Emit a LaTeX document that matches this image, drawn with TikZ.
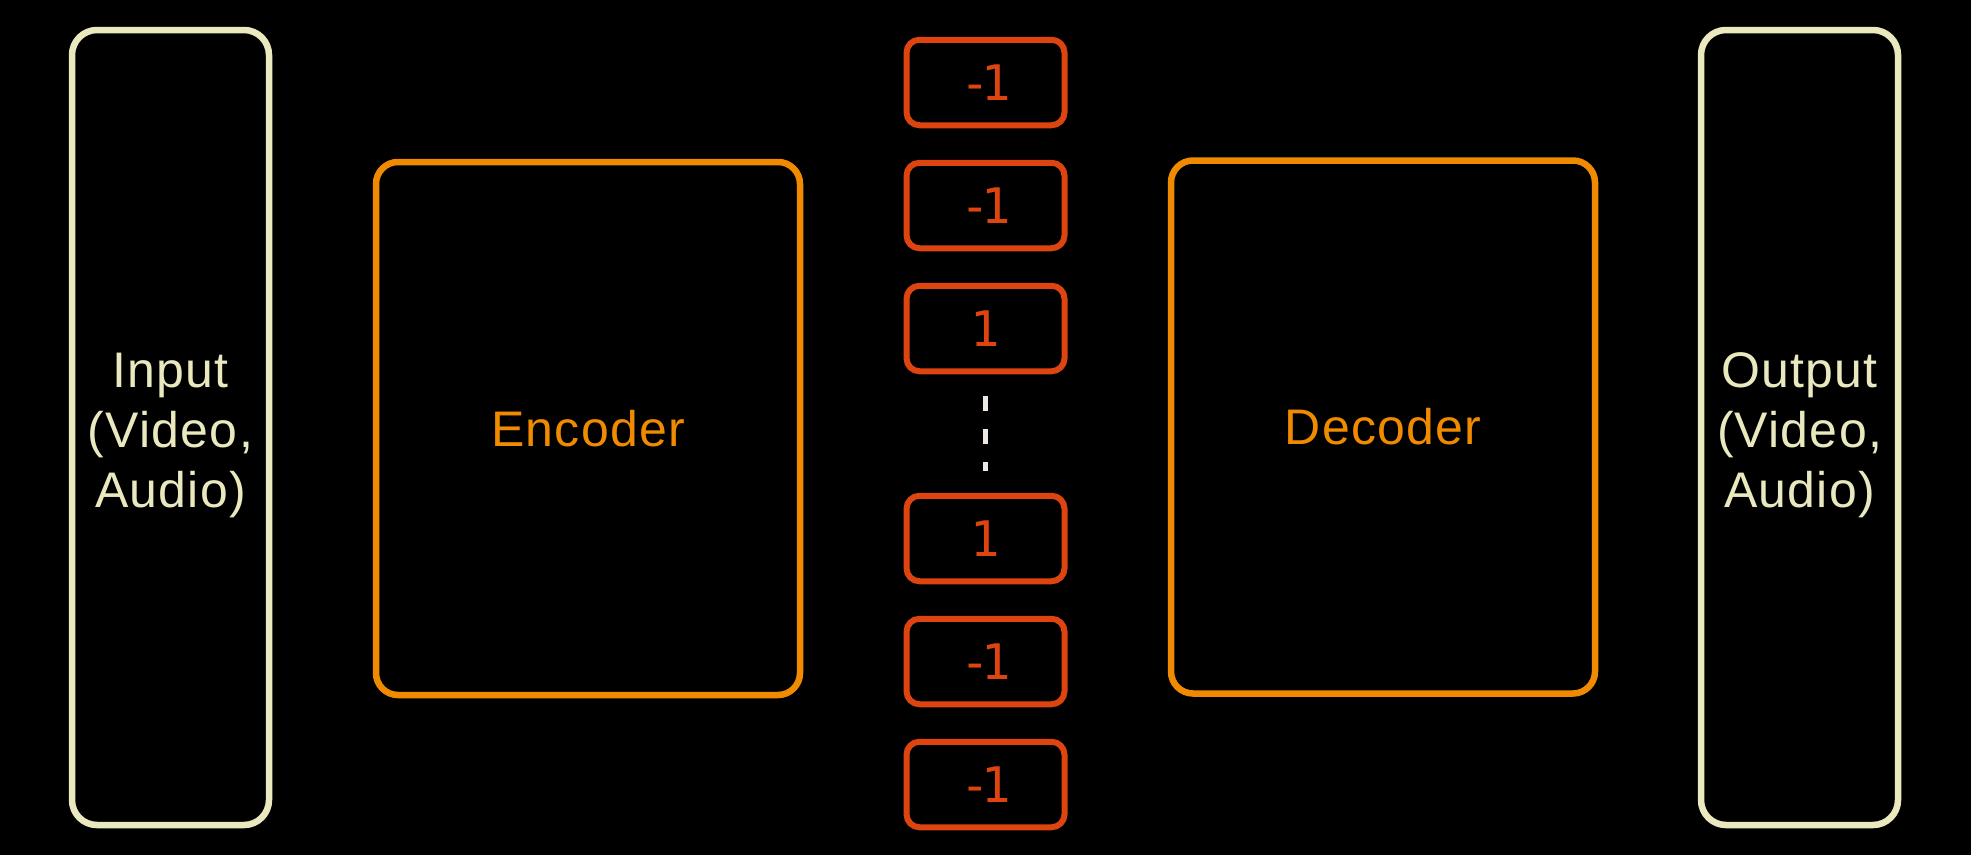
\documentclass[tikz,border=0pt]{standalone}
\usepackage{fontspec}
\setmainfont{Liberation Sans}[LetterSpace=2.5]
\newfontfamily\monof{DejaVu Sans Mono}
\definecolor{cream}{HTML}{EAE8BE}
\definecolor{orng}{HTML}{F08A00}
\definecolor{redo}{HTML}{DD4410}
\definecolor{dashc}{HTML}{EEE8E2}
\newcommand{\mneg}{-\kern-9pt 1}
\begin{document}
\begin{tikzpicture}[x=1pt,y=-1pt,
  iobox/.style={draw=cream, line width=6.5pt, rounded corners=25pt, minimum width=197pt, minimum height=795pt, inner sep=0pt},
  iotext/.style={text=cream, align=center, font=\fontsize{50}{60}\selectfont, inner sep=0pt},
  coder/.style={draw=orng, line width=6.5pt, rounded corners=22pt, minimum width=424pt, minimum height=533pt, text=orng, font=\fontsize{50}{59}\selectfont, inner sep=0pt},
  bit/.style={draw=redo, line width=6pt, rounded corners=13pt, minimum width=158pt, minimum height=85.5pt, text=redo, font=\monof\fontsize{49}{50}\selectfont, inner sep=0pt},
  dots/.style={draw=dashc, line width=5.5pt, dash pattern=on 15pt off 18pt, shorten >=21.75pt, shorten <=21.75pt}
]
\fill[black] (0,0) rectangle (1971,855);
\useasboundingbox (0,0) rectangle (1971,855);
\node[iobox] (in) at (170.5,427.5) {};
\node[iobox] (out) at (1799.5,427.5) {};
\node[iotext] (intext) at ([yshift=-8pt]in.center) {Input\\(Video,\\Audio)};
\node[iotext] (outtext) at ([yshift=-8pt]out.center) {Output\\(Video,\\Audio)};
\node[coder] (enc) at (588,428.5) {Encoder};
\node[coder] (dec) at (1383,427) {Decoder};
\node[bit] (b1) at (985.5,82.5) {\mneg};
\node[bit] (b2) at (985.5,205.5) {\mneg};
\node[bit] (b3) at (985.5,328.5) {1};
\node[bit] (b4) at (985.5,538.5) {1};
\node[bit] (b5) at (985.5,661.5) {\mneg};
\node[bit] (b6) at (985.5,784.5) {\mneg};
\draw[dots] (b3.south) -- (b4.north);
\end{tikzpicture}
\end{document}
